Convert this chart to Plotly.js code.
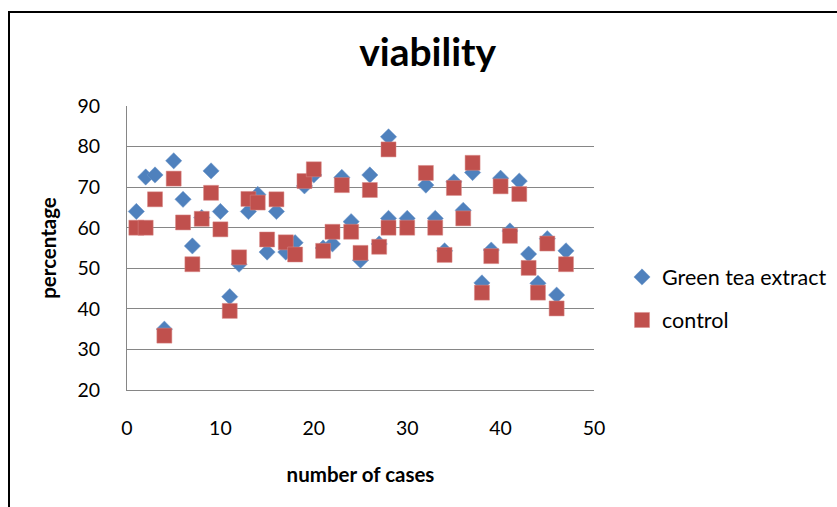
<!DOCTYPE html>
<html>
<head>
<meta charset="utf-8">
<script src="https://cdn.plot.ly/plotly-3.0.1.min.js"></script>
<style>
  html, body { margin: 0; padding: 0; background: #fff; overflow: hidden; }
  #wrap { position: relative; width: 837px; height: 507px; overflow: hidden; }
  #chart { position: absolute; left: 0; top: 0; width: 837px; height: 507px; }
  #frame { position: absolute; left: 8px; top: 11px; width: 900px; height: 600px;
           border: 2px solid #000; box-sizing: border-box; pointer-events: none; }
</style>
</head>
<body>
<div id="wrap">
  <div id="chart"></div>
  <div id="frame"></div>
</div>
<script>
const cases = [1,2,3,4,5,6,7,8,9,10,11,12,13,14,15,16,17,18,19,20,21,22,23,24,25,26,27,28,28,30,32,33,34,35,36,37,38,39,40,41,42,43,44,45,46,47];
const greenTea = [64,72.5,73,35,76.5,67,55.5,62.5,74,64,43,51,64,68.2,54,64,54,56.3,70.3,73,55,56,72.4,61.5,52,73,56,82.4,62.3,62.3,70.5,62.3,54.3,71.3,64.3,73.6,46.4,54.5,72.2,59.2,71.5,53.5,46.3,57.3,43.4,54.3];
const control = [60,60,67,33.4,72.1,61.3,51,62.2,68.6,59.6,39.5,52.7,67.1,66.2,57.1,67,56.4,53.4,71.5,74.4,54.3,59,70.5,59,53.8,69.3,55.3,79.3,60,60,73.5,60,53.3,69.8,62.3,76,44,53,70.2,58,68.3,50.1,44,56.1,40.1,51];
const seriesNames = ["Green tea extract", "control"];
const yTicks = [20,30,40,50,60,70,80,90];
const xTicks = [0,10,20,30,40,50];

const FONT = "Lato, 'Open Sans', sans-serif";

const traces = [
  {
    x: cases, y: greenTea, name: seriesNames[0], type: "scatter", mode: "markers",
    marker: { symbol: "diamond", size: 12.5, color: "#4F81BD", line: { width: 0.5, color: "#6f97c9" } },
    legendgroup: "a"
  },
  {
    x: cases, y: control, name: seriesNames[1], type: "scatter", mode: "markers",
    marker: { symbol: "square", size: 15, color: "#C0504D", line: { width: 0.5, color: "#d88a88" } },
    legendgroup: "b"
  }
];

const layout = {
  width: 837, height: 507,
  margin: { l: 126.5, r: 243, t: 105.7, b: 117, pad: 0, autoexpand: false },
  paper_bgcolor: "#fff", plot_bgcolor: "#fff",
  font: { family: FONT, size: 19, color: "#000" },
  title: {
    text: "<b>viability</b>",
    font: { family: FONT, size: 39, color: "#000" },
    x: 0.511, xanchor: "center", xref: "container",
    y: 0.897, yanchor: "middle", yref: "container"
  },
  xaxis: {
    range: [0, 50], tickvals: xTicks, ticktext: xTicks.map(String),
    showgrid: false, zeroline: false,
    showline: true, linecolor: "#868686", linewidth: 1,
    ticks: "", ticklabelstandoff: 21,
    tickfont: { family: FONT, size: 19.5, color: "#000" },
    title: { text: "<b>number of cases</b>", font: { family: FONT, size: 20.5, color: "#000" }, standoff: 29 },
    fixedrange: true
  },
  yaxis: {
    range: [20, 90], tickvals: yTicks, ticktext: yTicks.map(String),
    showgrid: true, gridcolor: "#868686", gridwidth: 1,
    zeroline: false, showline: true, linecolor: "#868686", linewidth: 1,
    ticks: "", ticklabelstandoff: 22,
    tickfont: { family: FONT, size: 19.5, color: "#000" },
    title: { text: "<b>percentage</b>", font: { family: FONT, size: 20.5, color: "#000" }, standoff: 15 },
    fixedrange: true
  },
  showlegend: true,
  legend: {
    x: 1.06, xanchor: "left", y: 0.47, yanchor: "top",
    traceorder: "grouped", tracegroupgap: 12,
    font: { family: FONT, size: 21.5, color: "#000" },
    bgcolor: "rgba(0,0,0,0)", borderwidth: 0
  }
};

Plotly.newPlot("chart", traces, layout, { displayModeBar: false, staticPlot: true });
</script>
</body>
</html>
